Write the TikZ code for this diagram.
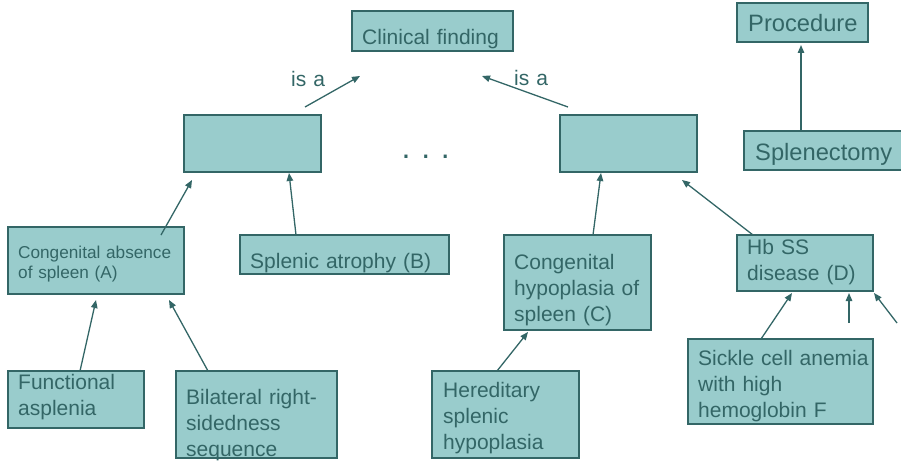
\documentclass[tikz,border=0pt]{standalone}
\usepackage{fontspec}
\setmainfont{Liberation Sans}
\usetikzlibrary{arrows.meta,calc}
\definecolor{boxfill}{HTML}{99CCCC}
\definecolor{boxline}{HTML}{336666}
\tikzset{%
        concept/.style = {
            draw = boxline,
            fill = boxfill,
            line width = 1.3pt,
            anchor = north west,
            inner sep = 0pt,
            outer sep = 0pt
        },
        conceptText/.style = {
            text = boxline,
            anchor = base west,
            inner sep = 0pt,
            text width = 200pt,
            align = left,
            font = \fontsize{21}{26.2}\selectfont
        },
        link/.style = {
            draw = boxline,
            line width = 1.3pt,
            -{Triangle[length=8pt, width=6.5pt]}
        }
}

\begin{document}
\begin{tikzpicture}[x=1pt, y=-1pt]
    \useasboundingbox (0,0) rectangle (901,460);
    % boxes
    \node[concept, minimum width=161pt, minimum height=40pt] (cf) at (352,11) {};
    \node[concept, minimum width=131pt, minimum height=39pt] (pr) at (737,3) {};
    \node[concept, minimum width=161pt, minimum height=39pt] (sp) at (744,131) {};
    \node[concept, minimum width=137pt, minimum height=57pt] (lb) at (184,115) {};
    \node[concept, minimum width=137pt, minimum height=57pt] (rb) at (560,115) {};
    \node[concept, minimum width=176pt, minimum height=67pt] (ca) at (8,227) {};
    \node[concept, minimum width=209pt, minimum height=39pt] (sa) at (240,235) {};
    \node[concept, minimum width=147pt, minimum height=95pt] (ch) at (504,235) {};
    \node[concept, minimum width=136pt, minimum height=56pt] (hb) at (737,235) {};
    \node[concept, minimum width=185pt, minimum height=85pt] (sc) at (688,339) {};
    \node[concept, minimum width=147pt, minimum height=87pt] (he) at (432,371) {};
    \node[concept, minimum width=136pt, minimum height=57pt] (fa) at (8,371) {};
    \node[concept, minimum width=161pt, minimum height=87pt] (bi) at (176,371) {};
    % texts
    \node[conceptText] (cft) at (362,45) {Clinical finding};
    \node[conceptText, font=\fontsize{23.7}{28}\selectfont] (prt) at (748,32) {Procedure};
    \node[conceptText, font=\fontsize{23.7}{28}\selectfont] (spt) at (755,160.5) {Splenectomy};
    \node[conceptText, font=\fontsize{17.2}{20.6}\selectfont] (cat) at (18,258) {Congenital absence\\of spleen (A)};
    \node[conceptText] (sat) at (250,268) {Splenic atrophy (B)};
    \node[conceptText] (cht) at (514,269) {Congenital\\hypoplasia of\\spleen (C)};
    \node[conceptText] (hbt) at (747,254) {Hb SS\\disease (D)};
    \node[conceptText] (sct) at (698,365) {Sickle cell anemia\\with high\\hemoglobin F};
    \node[conceptText] (het) at (443,397) {Hereditary\\splenic\\hypoplasia};
    \node[conceptText] (fat) at (18,389) {Functional\\asplenia};
    \node[conceptText] (bit) at (186,404) {Bilateral right-\\sidedness\\sequence};
    \node[conceptText] (isaL) at (291,86) {is a};
    \node[conceptText] (isaR) at (514,85) {is a};
    \node[conceptText, font=\fontsize{32}{38}\selectfont\frenchspacing] (dots) at (401.5,158.5) {. . .};
    % is a links
    \coordinate (hbIn1) at (849,323);
    \coordinate (hbIn2) at (897,323);
    \draw[link] ($(lb.north east)+(-16,-8)$) -- ($(cf.south west)+(8,25)$);
    \draw[link] ($(rb.north west)+(8,-8)$) -- ($(cf.south east)+(-31,25)$);
    \draw[link] ($(sp.north west)+(57,0)$) -- ($(pr.south west)+(64,3)$);
    \draw[link] ($(ca.north west)+(153,8)$) -- ($(lb.south west)+(8,8)$);
    \draw[link] ($(sa.north west)+(56,0)$) -- ($(lb.south west)+(105,1)$);
    \draw[link] ($(ch.north west)+(89,0)$) -- ($(rb.south west)+(41,1)$);
    \draw[link] ($(hb.north west)+(16,0)$) -- ($(rb.south east)+(-15,8)$);
    \draw[link] ($(fa.north west)+(72,0)$) -- ($(ca.south west)+(88,6)$);
    \draw[link] ($(bi.north west)+(32,0)$) -- ($(ca.south west)+(161,6)$);
    \draw[link] ($(he.north west)+(65,0)$) -- ($(ch.south west)+(24,2)$);
    \draw[link] ($(sc.north west)+(73,0)$) -- ($(hb.south west)+(55,2)$);
    \draw[link] (hbIn1) -- ($(hb.south west)+(112,2)$);
    \draw[link] (hbIn2) -- ($(hb.south east)+(1,2)$);
\end{tikzpicture}
\end{document}
